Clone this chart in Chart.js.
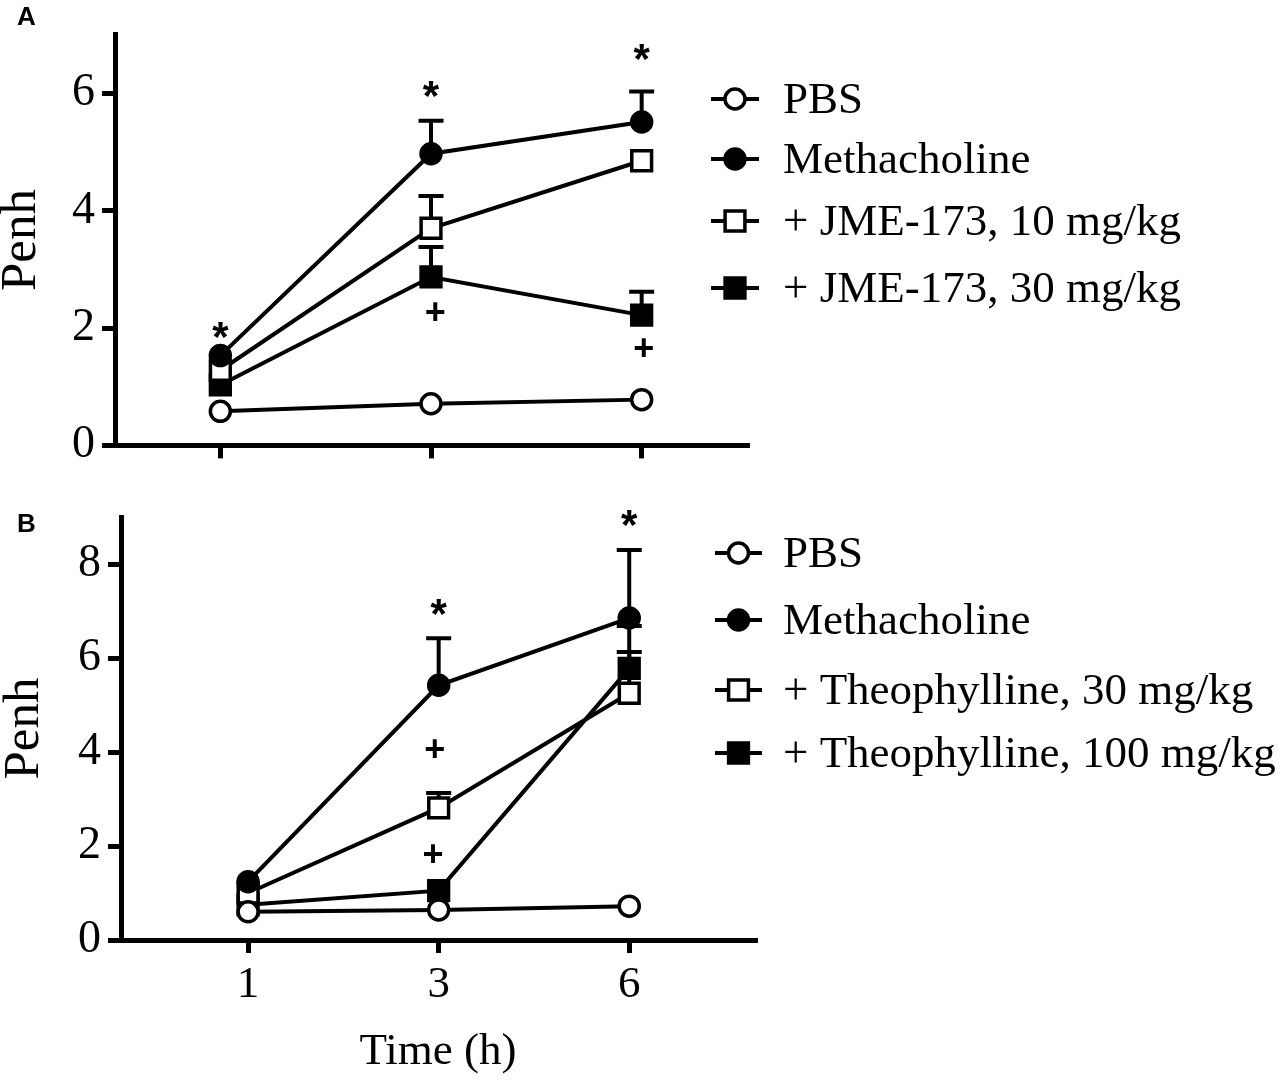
<!DOCTYPE html>
<html>
<head>
<meta charset="utf-8">
<script src="https://cdn.jsdelivr.net/npm/chart.js@4.4.0/dist/chart.umd.min.js"></script>
<style>
  body { margin: 0; background: #fff; width: 1285px; height: 1080px; position: relative; overflow: hidden; }
  canvas { position: absolute; left: 0; }
  .panel { position: absolute; left: 17px; font-family: "Liberation Sans", Arial, sans-serif; font-weight: bold; font-size: 26px; line-height: 26px; z-index: 2; }
</style>
</head>
<body>
<div class="panel" style="top:3px">A</div>
<div class="panel" style="top:510px">B</div>
<canvas id="chartA" width="1285" height="480" style="top:0"></canvas>
<canvas id="chartB" width="1285" height="600" style="top:480px"></canvas>
<script>
// time points (equally spaced on the axis)
const timeLabels = ["1", "3", "6"];
const timeIndex = [0, 1, 2];

// panel A - Penh values
const pbsA = [0.58, 0.71, 0.78];
const methaA = [1.53, 4.97, 5.51];
const jme10 = [1.28, 3.70, 4.85];
const jme30 = [1.03, 2.87, 2.22];
// top of the error bars (mean + SEM)
const pbsErrA = [null, null, null];
const methaErrA = [null, 5.53, 6.03];
const jme10Err = [null, 4.25, null];
const jme30Err = [null, 3.38, 2.62];
const starsA = [[0, 1.97], [1, 6.08], [2, 6.70]];
const plusA = [[1.02, 2.28], [2.01, 1.67]];
const yTicksA = [0, 2, 4, 6];
const legendA = ["PBS", "Methacholine", "+ JME-173, 10 mg/kg", "+ JME-173, 30 mg/kg"];

// panel B - Penh values
const pbsB = [0.60, 0.64, 0.72];
const methaB = [1.24, 5.42, 6.85];
const theo30 = [1.00, 2.81, 5.25];
const theo100 = [0.75, 1.05, 5.78];
const pbsErrB = [null, null, null];
const methaErrB = [null, 6.42, 8.30];
const theo30Err = [null, 3.13, 6.68];
const theo100Err = [null, null, 6.13];
const starsB = [[1, 7.09], [2, 8.98]];
const plusB = [[0.98, 4.07], [0.97, 1.83]];
const yTicksB = [0, 2, 4, 6, 8];
const legendB = ["PBS", "Methacholine", "+ Theophylline, 30 mg/kg", "+ Theophylline, 100 mg/kg"];

// marker looks: open circle, filled circle, open square, filled square
const markers = [
  { style: "circle", radius: 10, fill: "#fff" },
  { style: "circle", radius: 10, fill: "#000" },
  { style: "rect", radius: 14, fill: "#fff" },
  { style: "rect", radius: 14, fill: "#000" }
];

const serif = "'Liberation Serif', 'Times New Roman', serif";

function toPoints(values) {
  return values.map(function (v, i) { return { x: timeIndex[i], y: v }; });
}

// error bars under the markers, stars and crosses on top
const errorPlugin = {
  id: "errorBars",
  beforeDatasetsDraw: function (chart, args, opts) {
    const ctx = chart.ctx;
    const xs = chart.scales.x, ys = chart.scales.y;
    ctx.save();
    ctx.strokeStyle = "#000";
    ctx.lineWidth = 4;
    opts.errors.forEach(function (errs, s) {
      errs.forEach(function (top, i) {
        if (top === null) return;
        const px = xs.getPixelForValue(timeIndex[i]);
        const y0 = ys.getPixelForValue(opts.means[s][i]);
        const y1 = ys.getPixelForValue(top);
        ctx.beginPath();
        ctx.moveTo(px, y0);
        ctx.lineTo(px, y1);
        ctx.moveTo(px - 12.5, y1);
        ctx.lineTo(px + 12.5, y1);
        ctx.stroke();
      });
    });
    ctx.restore();
  },
  afterDatasetsDraw: function (chart, args, opts) {
    const ctx = chart.ctx;
    const xs = chart.scales.x, ys = chart.scales.y;
    ctx.save();
    ctx.fillStyle = "#000";
    ctx.textAlign = "center";
    ctx.textBaseline = "alphabetic";
    function mark(txt, font, list) {
      ctx.font = font;
      const m = ctx.measureText(txt);
      const shift = (m.actualBoundingBoxAscent - m.actualBoundingBoxDescent) / 2;
      list.forEach(function (p) {
        ctx.fillText(txt, xs.getPixelForValue(p[0]), ys.getPixelForValue(p[1]) + shift);
      });
    }
    mark("*", "bold 42px 'Liberation Sans', Arial, sans-serif", opts.stars);
    mark("+", "bold 36px 'Liberation Sans', Arial, sans-serif", opts.plus);
    ctx.restore();
  }
};

// legend: short line with the marker, then the label
const legendPlugin = {
  id: "sideLegend",
  afterDraw: function (chart, args, opts) {
    const ctx = chart.ctx;
    ctx.save();
    opts.labels.forEach(function (label, i) {
      const y = opts.rows[i];
      const mk = markers[i];
      ctx.strokeStyle = "#000";
      ctx.lineWidth = 4;
      ctx.beginPath();
      ctx.moveTo(opts.lineFrom, y);
      ctx.lineTo(opts.lineTo, y);
      ctx.stroke();
      ctx.fillStyle = mk.fill;
      ctx.lineWidth = 3.5;
      Chart.helpers.drawPoint(ctx, { pointStyle: mk.style, radius: mk.radius, rotation: 0, borderWidth: 3.5 },
        (opts.lineFrom + opts.lineTo) / 2, y);
      ctx.fillStyle = "#000";
      ctx.font = "45px " + serif;
      ctx.textAlign = "left";
      ctx.textBaseline = "middle";
      ctx.fillText(label, opts.textX, y + 2);
    });
    ctx.restore();
  }
};

function makeChart(id, cfg) {
  const datasets = cfg.series.map(function (vals, i) {
    const mk = markers[i];
    return {
      label: cfg.legend[i],
      data: toPoints(vals),
      borderColor: "#000",
      borderWidth: 4,
      pointStyle: mk.style,
      pointRadius: mk.radius,
      pointBackgroundColor: mk.fill,
      pointBorderColor: "#000",
      pointBorderWidth: 3.5,
      tension: 0,
      fill: false,
      clip: false
    };
  });

  return new Chart(document.getElementById(id), {
    type: "line",
    data: { datasets: datasets },
    options: {
      responsive: false,
      animation: false,
      devicePixelRatio: 1,
      events: [],
      layout: { padding: { left: 0, top: cfg.area.top, right: 1285 - cfg.area.right, bottom: 0 } },
      plugins: {
        legend: { display: false },
        tooltip: { enabled: false },
        errorBars: { means: cfg.series, errors: cfg.errors, stars: cfg.stars, plus: cfg.plus },
        sideLegend: cfg.legendBox
      },
      scales: {
        x: {
          type: "linear",
          min: cfg.xMin,
          max: cfg.xMax,
          afterBuildTicks: function (s) { s.ticks = timeIndex.map(function (v) { return { value: v }; }); },
          afterFit: function (s) { s.height = cfg.height - cfg.area.bottom; },
          grid: { drawOnChartArea: false, drawTicks: true, tickLength: 13, lineWidth: 5, color: "#000" },
          border: { display: true, width: 5, color: "#000" },
          ticks: {
            display: cfg.showTime,
            color: "#000",
            padding: 5,
            maxRotation: 0,
            font: { family: serif, size: 45 },
            callback: function (v) { return timeLabels[v]; }
          },
          title: {
            display: cfg.showTime,
            text: "Time (h)",
            color: "#000",
            font: { family: serif, size: 45 },
            padding: { top: 0, bottom: 1 }
          }
        },
        y: {
          min: 0,
          max: cfg.yMax,
          afterBuildTicks: function (s) { s.ticks = cfg.yTicks.map(function (v) { return { value: v }; }); },
          afterFit: function (s) { s.width = cfg.area.left; },
          grid: { drawOnChartArea: false, drawTicks: true, tickLength: 13, lineWidth: 5, color: "#000" },
          border: { display: true, width: 5, color: "#000" },
          ticks: { color: "#000", padding: 7, font: { family: serif, size: 46 } },
          title: {
            display: true,
            text: "Penh",
            color: "#000",
            font: { family: serif, size: 51, lineHeight: 0.84 },
            padding: { top: cfg.penhPad, bottom: 0 }
          }
        }
      }
    },
    plugins: [errorPlugin, legendPlugin]
  });
}

makeChart("chartA", {
  height: 480,
  area: { left: 115, right: 747, top: 29, bottom: 450 },
  xMin: -0.5, xMax: 2.5,
  yMax: 7,
  yTicks: yTicksA,
  showTime: false,
  penhPad: 0,
  series: [pbsA, methaA, jme10, jme30],
  errors: [pbsErrA, methaErrA, jme10Err, jme30Err],
  stars: starsA,
  plus: plusA,
  legend: legendA,
  legendBox: { labels: legendA, rows: [99, 159, 221, 288], lineFrom: 711, lineTo: 759, textX: 783 }
});

makeChart("chartB", {
  height: 600,
  area: { left: 121, right: 755, top: 37, bottom: 460 },
  xMin: -0.667, xMax: 2.66,
  yMax: 9,
  yTicks: yTicksB,
  showTime: true,
  penhPad: 3,
  series: [pbsB, methaB, theo30, theo100],
  errors: [pbsErrB, methaErrB, theo30Err, theo100Err],
  stars: starsB,
  plus: plusB,
  legend: legendB,
  legendBox: { labels: legendB, rows: [73, 140, 210, 273], lineFrom: 715, lineTo: 762, textX: 783 }
});
</script>
</body>
</html>
